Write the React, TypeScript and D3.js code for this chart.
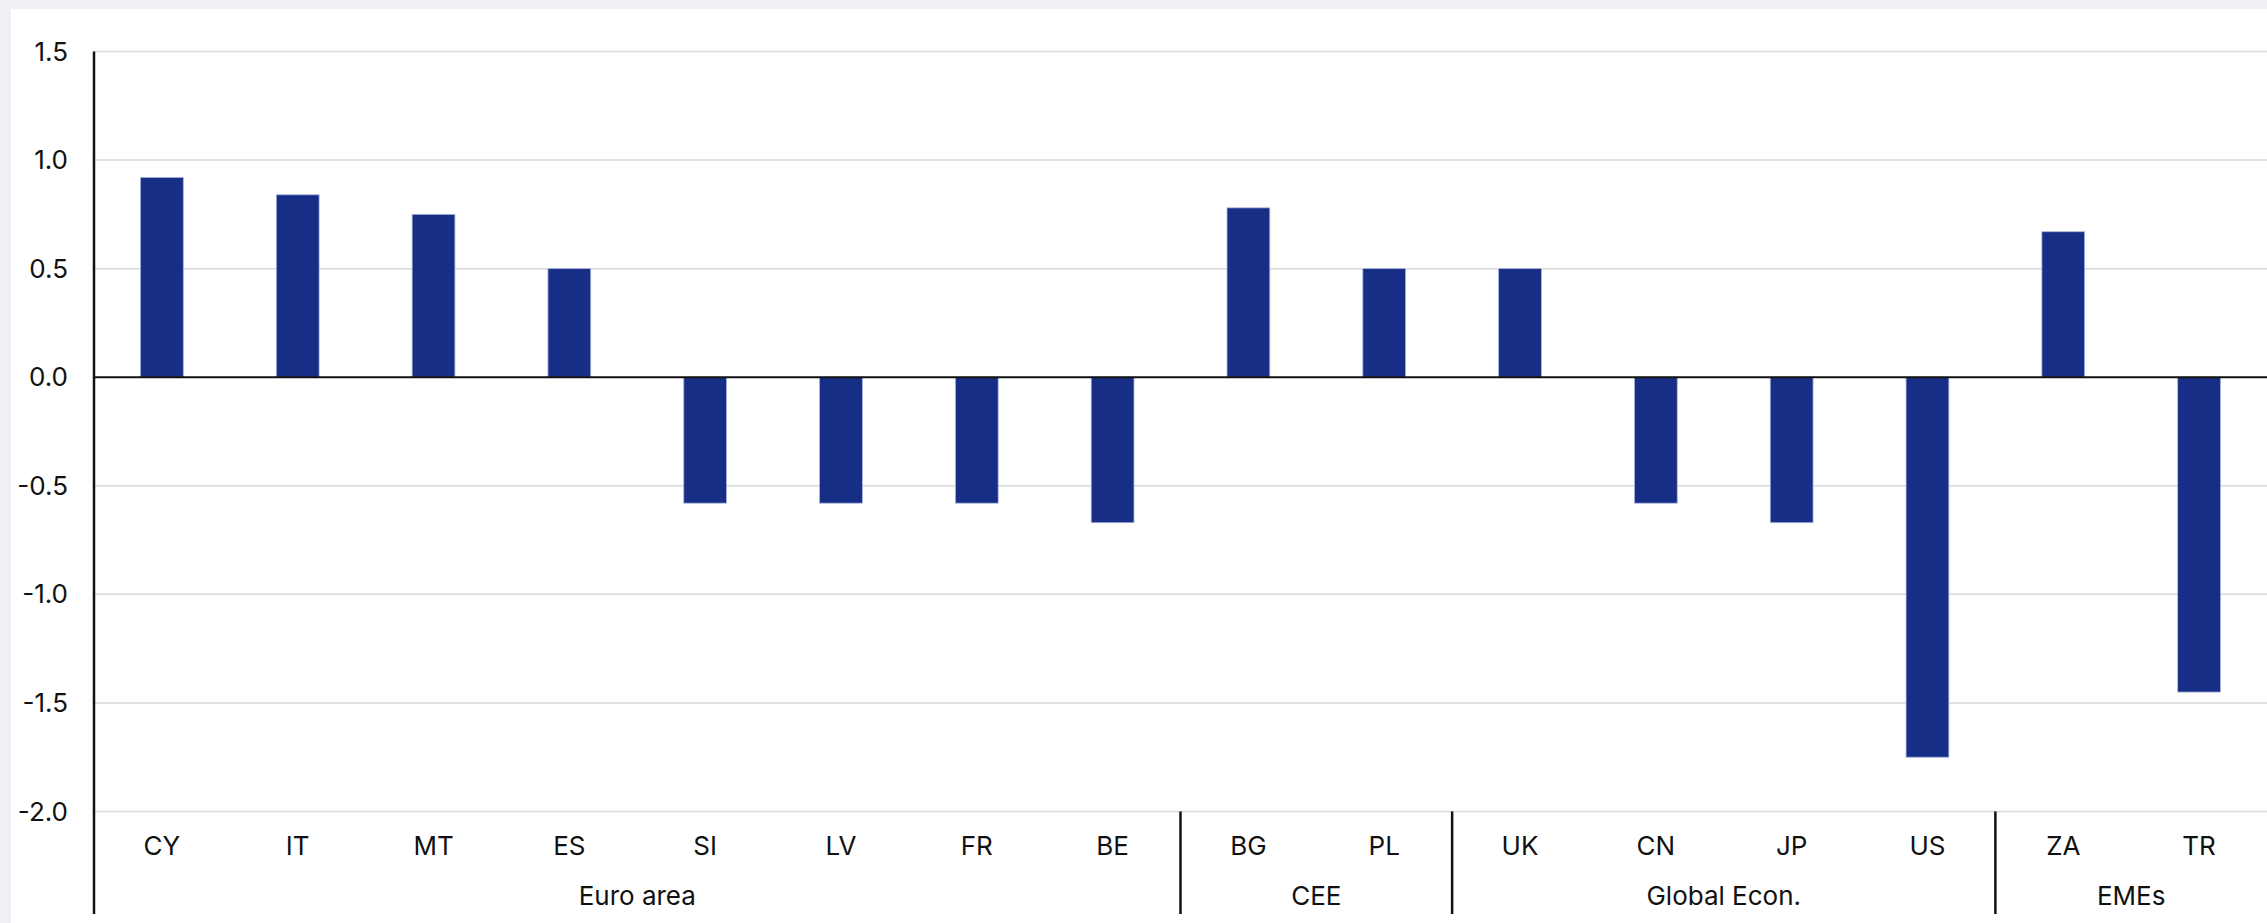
import React, { useEffect, useRef } from 'react';
import * as d3 from 'd3';

const countries = ['CY', 'IT', 'MT', 'ES', 'SI', 'LV', 'FR', 'BE', 'BG', 'PL', 'UK', 'CN', 'JP', 'US', 'ZA', 'TR'];
const values = [0.92, 0.84, 0.75, 0.5, -0.58, -0.58, -0.58, -0.67, 0.78, 0.5, 0.5, -0.58, -0.67, -1.75, 0.67, -1.45];
const groups = ['Euro area', 'CEE', 'Global Econ.', 'EMEs'];
const groupSizes = [8, 2, 4, 2];
const yTicks = [1.5, 1.0, 0.5, 0.0, -0.5, -1.0, -1.5, -2.0];

const WIDTH = 2267;
const HEIGHT = 923;

const App: React.FC = () => {
  const svgRef = useRef<SVGSVGElement | null>(null);

  useEffect(() => {
    document.body.style.margin = '0';
    const svg = d3.select(svgRef.current);
    svg.selectAll('*').remove();

    const marginLeft = 94;
    const marginRight = 0;
    const font = 'Inter, "Noto Sans", sans-serif';

    // page background + white card
    svg.append('rect').attr('width', WIDTH).attr('height', HEIGHT).attr('fill', '#eff0f5');
    svg.append('rect').attr('x', 11).attr('y', 9).attr('width', WIDTH - 11).attr('height', HEIGHT - 9).attr('fill', '#ffffff');

    const x = d3.scaleBand<string>()
      .domain(countries)
      .range([marginLeft, WIDTH - marginRight])
      .padding(0);

    const y = d3.scaleLinear()
      .domain([-2, 1.5])
      .range([811.5, 51.5]);

    const bottom = 914;

    // gridlines
    svg.append('g')
      .selectAll('line')
      .data(yTicks.filter(t => t !== 0))
      .join('line')
      .attr('x1', marginLeft)
      .attr('x2', WIDTH - marginRight)
      .attr('y1', d => y(d))
      .attr('y2', d => y(d))
      .attr('stroke', '#d9d9d9')
      .attr('stroke-width', 1.5);

    // y tick labels
    svg.append('g')
      .selectAll('text')
      .data(yTicks)
      .join('text')
      .attr('x', 68)
      .attr('y', d => y(d))
      .attr('dy', '0.35em')
      .attr('text-anchor', 'end')
      .attr('font-family', font)
      .attr('font-size', 26)
      .attr('fill', '#111')
      .text(d => d.toFixed(1));

    // bars
    const barW = x.bandwidth() * 0.315;
    svg.append('g')
      .selectAll('rect')
      .data(countries.map((c, i) => ({ c, v: values[i] })))
      .join('rect')
      .attr('x', d => x(d.c)! + (x.bandwidth() - barW) / 2)
      .attr('y', d => y(Math.max(0, d.v)))
      .attr('width', barW)
      .attr('height', d => Math.abs(y(d.v) - y(0)))
      .attr('fill', '#162e85')
      .attr('stroke', '#a9b4dc')
      .attr('stroke-width', 0.8);

    // zero line
    svg.append('line')
      .attr('x1', marginLeft)
      .attr('x2', WIDTH - marginRight)
      .attr('y1', y(0))
      .attr('y2', y(0))
      .attr('stroke', '#111')
      .attr('stroke-width', 2);

    // y axis line
    svg.append('line')
      .attr('x1', marginLeft)
      .attr('x2', marginLeft)
      .attr('y1', y(1.5))
      .attr('y2', bottom)
      .attr('stroke', '#111')
      .attr('stroke-width', 2.5);

    // category labels
    svg.append('g')
      .selectAll('text')
      .data(countries)
      .join('text')
      .attr('x', d => x(d)! + x.bandwidth() / 2)
      .attr('y', 846)
      .attr('dy', '0.35em')
      .attr('text-anchor', 'middle')
      .attr('font-family', font)
      .attr('font-size', 26)
      .attr('fill', '#111')
      .text(d => d);

    // group labels and separators
    let start = 0;
    groups.forEach((g, i) => {
      const end = start + groupSizes[i];
      const x0 = x(countries[start])!;
      const x1 = end < countries.length ? x(countries[end])! : WIDTH - marginRight;
      svg.append('text')
        .attr('x', (x0 + x1) / 2)
        .attr('y', 896)
        .attr('dy', '0.35em')
        .attr('text-anchor', 'middle')
        .attr('font-family', font)
        .attr('font-size', 26)
        .attr('fill', '#111')
        .text(g);
      if (end < countries.length) {
        svg.append('line')
          .attr('x1', x1)
          .attr('x2', x1)
          .attr('y1', y(-2))
          .attr('y2', bottom)
          .attr('stroke', '#111')
          .attr('stroke-width', 2.5);
      }
      start = end;
    });
  }, []);

  return (
    <div style={{ position: 'absolute', left: 0, top: 0 }}>
      <svg ref={svgRef} width={WIDTH} height={HEIGHT} style={{ display: 'block' }}></svg>
    </div>
  );
};

export default App;
